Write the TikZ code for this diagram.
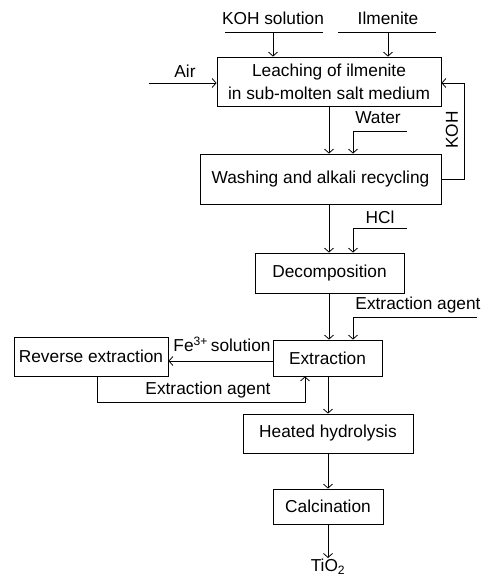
\documentclass[tikz,border=0pt]{standalone}
\usepackage{fontspec}
\setmainfont{Liberation Sans}
\usetikzlibrary{arrows.meta}
\begin{document}
\begin{tikzpicture}[x=1pt,y=-1pt,
  every node/.style={font=\fontsize{17.3}{23}\selectfont, inner sep=0pt},
  proc/.style={draw, line width=0.8pt, align=center},
  ln/.style={line width=0.8pt},
  arr/.style={line width=0.8pt, -{Straight Barb[length=4pt,width=9pt,line width=0.8pt]}}]
\useasboundingbox (0,0) rectangle (481,576);
% process boxes
\node[proc, minimum width=224pt, minimum height=49pt] (leach) at (329,81.5) {Leaching of ilmenite\\in sub-molten salt medium};
\node[proc, minimum width=241pt, minimum height=50pt] (wash) at (320.5,179) {Washing and alkali recycling};
\node[proc, minimum width=149pt, minimum height=40pt] (decomp) at (329.5,273) {Decomposition};
\node[proc, minimum width=109pt, minimum height=36pt] (extr) at (327.5,358) {Extraction};
\node[proc, minimum width=154pt, minimum height=39pt] (rev) at (91,356.5) {Reverse extraction};
\node[proc, minimum width=170pt, minimum height=39pt] (heat) at (328,433.5) {Heated hydrolysis};
\node[proc, minimum width=110pt, minimum height=35pt] (calc) at (328,506.5) {Calcination};
% labels
\node (lkoh) at (273,18) {KOH solution};
\node (lilm) at (388,18) {Ilmenite};
\node (lair) at (185,71) {Air};
\node (lwat) at (378,118) {Water};
\node (lhcl) at (380,217) {HCl};
\node (lea1) at (418,305) {Extraction agent};
\node (lfe) at (222,344) {Fe\textsuperscript{3+}\,solution};
\node (lea2) at (208,390) {Extraction agent};
\node[rotate=90] (lkohr) at (452,130) {KOH};
\node (ltio) at (328,567) {TiO\textsubscript{2}};
% coordinates
\coordinate (k1) at (225,32); \coordinate (k2) at (323,32); \coordinate (kt) at (273,32);
\coordinate (i1) at (338,32); \coordinate (i2) at (436,32); \coordinate (it) at (388,32);
\coordinate (air) at (149,83);
\coordinate (w1) at (353,131); \coordinate (w2) at (407,131);
\coordinate (h1) at (353,228); \coordinate (h2) at (407,228);
\coordinate (e1) at (353,317); \coordinate (e2) at (477,317);
\coordinate (rx) at (464,0);
\coordinate (m1) at (329,0);
\coordinate (fy) at (0,361);
\coordinate (bx) at (97,402); \coordinate (bx2) at (305,402);
\coordinate (tio) at (328,558);
% feeds
\draw[ln] (k1) -- (k2);
\draw[arr] (kt) -- (kt |- leach.north);
\draw[ln] (i1) -- (i2);
\draw[arr] (it) -- (it |- leach.north);
\draw[arr] (air) -- (air -| leach.west);
\draw[arr] (w2) -- (w1) -- (w1 |- wash.north);
\draw[arr] (h2) -- (h1) -- (h1 |- decomp.north);
\draw[arr] (e2) -- (e1) -- (e1 |- extr.north);
% KOH recycle
\draw[arr] (wash.east) -- (wash.east -| rx) -- (rx |- air) -- (air -| leach.east);
% main line
\draw[arr] (m1 |- leach.south) -- (m1 |- wash.north);
\draw[arr] (m1 |- wash.south) -- (m1 |- decomp.north);
\draw[arr] (m1 |- decomp.south) -- (m1 |- extr.north);
\draw[arr] (fy -| extr.west) -- (fy -| rev.east);
\draw[arr] (bx |- rev.south) -- (bx) -- (bx2) -- (bx2 |- extr.south);
\draw[arr] (extr.south -| heat.north) -- (heat.north);
\draw[arr] (heat.south) -- (calc.north);
\draw[arr] (calc.south) -- (tio);
\end{tikzpicture}
\end{document}
